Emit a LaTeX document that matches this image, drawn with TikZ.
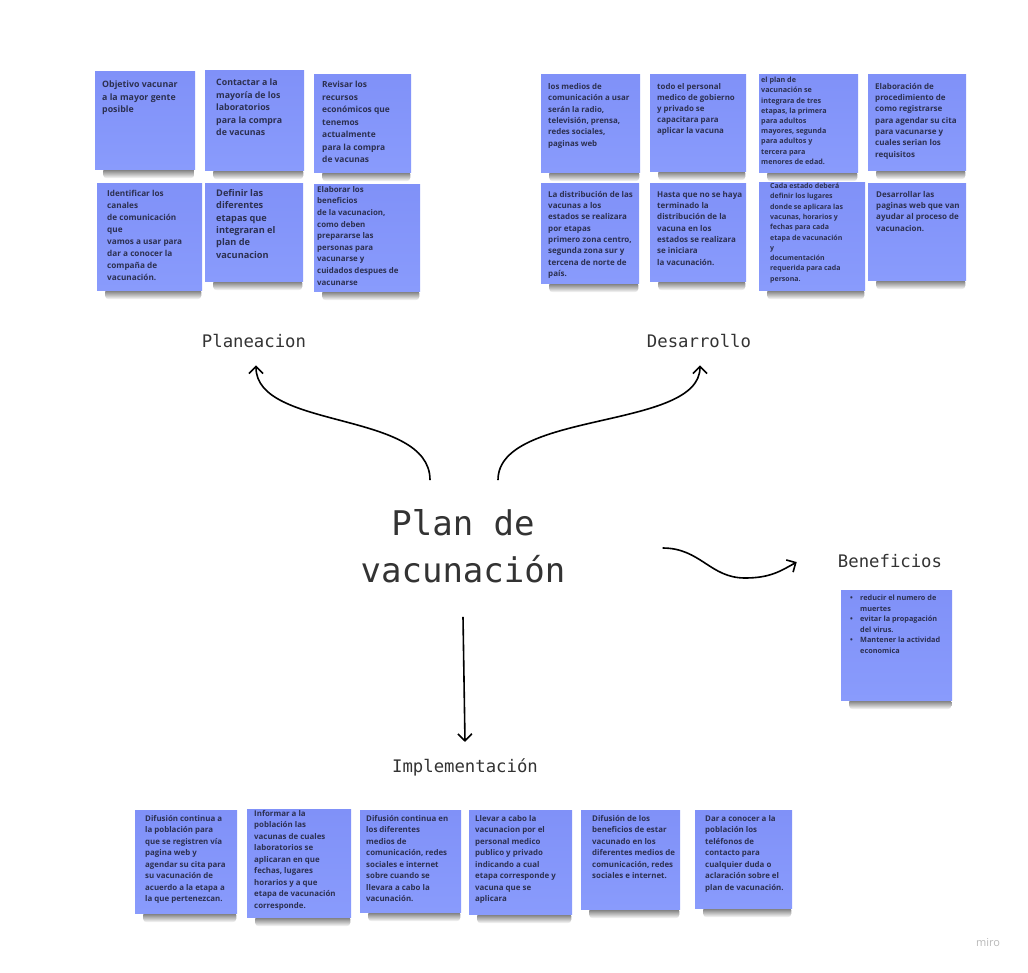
\documentclass[tikz,border=0pt]{standalone}
\usepackage{fontspec}
\setmainfont{Open Sans}
\newfontfamily\titulofont{DejaVu Sans Mono}
\usetikzlibrary{arrows.meta,positioning,backgrounds}

\definecolor{notaazul}{RGB}{128,145,248}
\definecolor{notaazulclaro}{RGB}{137,155,252}
\definecolor{tinta}{RGB}{44,48,80}
\definecolor{titulogris}{RGB}{51,51,51}

\tikzset{
  nota/.style={rectangle, inner sep=0pt, anchor=north west, top color=notaazul, bottom color=notaazulclaro},
  textonota/.style={inner sep=0pt, align=left, text=tinta},
  letra/.style 2 args={font=\bfseries\fontsize{#1}{#2}\selectfont},
  sombra/.style={top color=black!90, bottom color=white, opacity=.7, rounded corners=4pt},
  titulo/.style={inner sep=0pt, anchor=base, text=titulogris, font=\titulofont\fontsize{17.3}{20}\selectfont},
  flecha/.style={-{Straight Barb[length=7pt,width=14pt]}, line width=1.6pt, black},
}

\begin{document}
\begin{tikzpicture}[x=1pt, y=-1pt]
\useasboundingbox (0,0) rectangle (1028,972);

% Planeacion
\node[nota, minimum width=100pt, minimum height=98pt] (pl1) at (95,71) {};
\node[textonota, letra={8.8}{12.2}, below right=10pt and 7pt of pl1.north west] (pl1t) {Objetivo vacunar\\a la mayor gente\\posible};
\node[nota, minimum width=99pt, minimum height=100pt] (pl2) at (205,70) {};
\node[textonota, letra={8.8}{12.5}, below right=9pt and 11pt of pl2.north west] (pl2t) {Contactar a la\\mayoría de los\\laboratorios\\para la compra\\de vacunas};
\node[nota, minimum width=97pt, minimum height=98pt] (pl3) at (314,74) {};
\node[textonota, letra={8.4}{12.5}, below right=7pt and 8pt of pl3.north west] (pl3t) {Revisar los\\recursos\\económicos que\\tenemos\\actualmente\\para la compra\\de vacunas};
\node[nota, minimum width=105pt, minimum height=107pt] (pl4) at (97,183) {};
\node[textonota, letra={8.2}{12}, below right=7pt and 10pt of pl4.north west] (pl4t) {Identificar los\\canales\\de comunicación\\que\\vamos a usar para\\dar a conocer la\\compaña de\\vacunación.};
\node[nota, minimum width=98pt, minimum height=98pt] (pl5) at (205,183) {};
\node[textonota, letra={9.2}{12.4}, below right=6pt and 11pt of pl5.north west] (pl5t) {Definir las\\diferentes\\etapas que\\integraran el\\plan de\\vacunacion};
\node[nota, minimum width=106pt, minimum height=107pt] (pl6) at (314,184) {};
\node[textonota, letra={7.9}{11.6}, below right=2pt and 3pt of pl6.north west] (pl6t) {Elaborar los\\beneficios\\de la vacunacion,\\como deben\\prepararse las\\personas para\\vacunarse y\\cuidados despues de\\vacunarse};

% Desarrollo
\node[nota, minimum width=99pt, minimum height=98pt] (de1) at (541,74) {};
\node[textonota, letra={7.9}{11.4}, below right=9pt and 7pt of de1.north west] (de1t) {los medios de\\comunicación a usar\\serán la radio,\\televisión, prensa,\\redes sociales,\\paginas web};
\node[nota, minimum width=96pt, minimum height=97pt] (de2) at (650,74) {};
\node[textonota, letra={7.9}{11}, below right=9pt and 7pt of de2.north west] (de2t) {todo el personal\\medico de gobierno\\y privado se\\capacitara para\\aplicar la vacuna};
\node[nota, minimum width=99pt, minimum height=98pt] (de3) at (759,74) {};
\node[textonota, letra={7.2}{10.2}, below right=3pt and 2pt of de3.north west] (de3t) {el plan de\\vacunación se\\integrara de tres\\etapas, la primera\\para adultos\\mayores, segunda\\para adultos y\\tercera para\\menores de edad.};
\node[nota, minimum width=98pt, minimum height=96pt] (de4) at (868,74) {};
\node[textonota, letra={8}{11.3}, below right=9pt and 7pt of de4.north west] (de4t) {Elaboración de\\procedimiento de\\como registrarse\\para agendar su cita\\para vacunarse y\\cuales serian los\\requisitos};
\node[nota, minimum width=98pt, minimum height=100pt] (de5) at (541,183) {};
\node[textonota, letra={8}{11.3}, below right=8pt and 7pt of de5.north west] (de5t) {La distribución de las\\vacunas a los\\estados se realizara\\por etapas\\primero zona centro,\\segunda zona sur y\\tercena de norte de\\país.};
\node[nota, minimum width=96pt, minimum height=98pt] (de6) at (650,183) {};
\node[textonota, letra={8}{11.3}, below right=8pt and 7pt of de6.north west] (de6t) {Hasta que no se haya\\terminado la\\distribución de la\\vacuna en los\\estados se realizara\\se iniciara\\la vacunación.};
\node[nota, minimum width=106pt, minimum height=108pt] (de7) at (759,182) {};
\node[textonota, letra={7}{10.3}, below right=1pt and 11pt of de7.north west] (de7t) {Cada estado deberá\\definir los lugares\\donde se aplicara las\\vacunas, horarios y\\fechas para cada\\etapa de vacunación\\y\\documentación\\requerida para cada\\persona.};
\node[nota, minimum width=98pt, minimum height=97pt] (de8) at (868,183) {};
\node[textonota, letra={8}{11.3}, below right=8pt and 8pt of de8.north west] (de8t) {Desarrollar las\\paginas web que van\\ayudar al proceso de\\vacunacion.};

% Beneficios
\node[nota, minimum width=111pt, minimum height=110pt] (be1) at (841,590) {};
\node[textonota, letra={7.3}{10.5}, below right=5pt and 9pt of be1.north west] (be1t) {\makebox[10pt][l]{\textbullet}reducir el numero de\\\hspace*{10pt}muertes\\\makebox[10pt][l]{\textbullet}evitar la propagación\\\hspace*{10pt}del virus.\\\makebox[10pt][l]{\textbullet}Mantener la actividad\\\hspace*{10pt}economica};

% Implementacion
\node[nota, minimum width=102pt, minimum height=103pt] (im1) at (135,810) {};
\node[textonota, letra={7.9}{11.5}, below right=5pt and 10pt of im1.north west] (im1t) {Difusión continua a\\la población para\\que se registren vía\\pagina web y\\agendar su cita para\\su vacunación de\\acuerdo a la etapa a\\la que pertenezcan.};
\node[nota, minimum width=104pt, minimum height=108pt] (im2) at (247,809) {};
\node[textonota, letra={7.9}{11.5}, below right=1pt and 7pt of im2.north west] (im2t) {Informar a la\\población las\\vacunas de cuales\\laboratorios se\\aplicaran en que\\fechas, lugares\\horarios y a que\\etapa de vacunación\\corresponde.};
\node[nota, minimum width=101pt, minimum height=102pt] (im3) at (360,810) {};
\node[textonota, letra={7.9}{11.5}, below right=5pt and 6pt of im3.north west] (im3t) {Difusión continua en\\los diferentes\\medios de\\comunicación, redes\\sociales e internet\\sobre cuando se\\llevara a cabo la\\vacunación.};
\node[nota, minimum width=103pt, minimum height=104pt] (im4) at (469,810) {};
\node[textonota, letra={7.9}{11.5}, below right=5pt and 6pt of im4.north west] (im4t) {Llevar a cabo la\\vacunacion por el\\personal medico\\publico y privado\\indicando a cual\\etapa corresponde y\\vacuna que se\\aplicara};
\node[nota, minimum width=99pt, minimum height=99pt] (im5) at (581,810) {};
\node[textonota, letra={7.9}{11.5}, below right=5pt and 11pt of im5.north west] (im5t) {Difusión de los\\beneficios de estar\\vacunado en los\\diferentes medios de\\comunicación, redes\\sociales e internet.};
\node[nota, minimum width=97pt, minimum height=98pt] (im6) at (695,810) {};
\node[textonota, letra={7.9}{11.5}, below right=5pt and 10pt of im6.north west] (im6t) {Dar a conocer a la\\población los\\teléfonos de\\contacto para\\cualquier duda o\\aclaración sobre el\\plan de vacunación.};

% sombras de las notas
\begin{scope}[on background layer]
\foreach \n in {pl1,pl2,pl3,pl4,pl5,pl6,de1,de2,de3,de4,de5,de6,de7,de8,be1,im1,im2,im3,im4,im5,im6}
  \shade[sombra] ([xshift=8pt,yshift=2pt]\n.south west) rectangle ([xshift=-1pt,yshift=-9pt]\n.south east);
\end{scope}

% titulos
\node[inner sep=0pt, align=center, text=titulogris, font=\titulofont\fontsize{34}{47}\selectfont] (plan) at (463,546) {Plan de\\vacunación};
\node[titulo] (planeacion) at (254,347) {Planeacion};
\node[titulo] (desarrollo) at (699,347) {Desarrollo};
\node[titulo] (beneficios) at (890,567) {Beneficios};
\node[titulo] (implementacion) at (465,772) {Implementación};

% flechas
\coordinate (curva) at (745,578);
\draw[flecha] ([xshift=-33pt,yshift=29pt]plan.north) .. controls +(0,-70) and +(0,65) .. ([xshift=2pt,yshift=-18pt]planeacion.south);
\draw[flecha] ([xshift=35pt,yshift=29pt]plan.north) .. controls +(0,-70) and +(0,65) .. ([xshift=1pt,yshift=-18pt]desarrollo.south);
\draw[flecha] ([xshift=97pt,yshift=-2pt]plan.east) .. controls +(38,0) and +(-35,0) .. (curva) .. controls +(25,0) and +(-16,9) .. ([xshift=-41pt,yshift=-1.5pt]beneficios.west);
\draw[flecha] ([yshift=-34pt]plan.south) -- ([yshift=16pt]implementacion.north);

\node[text=black!28, font=\fontsize{11}{13}\selectfont] (miro) at (988,943) {miro};
\end{tikzpicture}
\end{document}
